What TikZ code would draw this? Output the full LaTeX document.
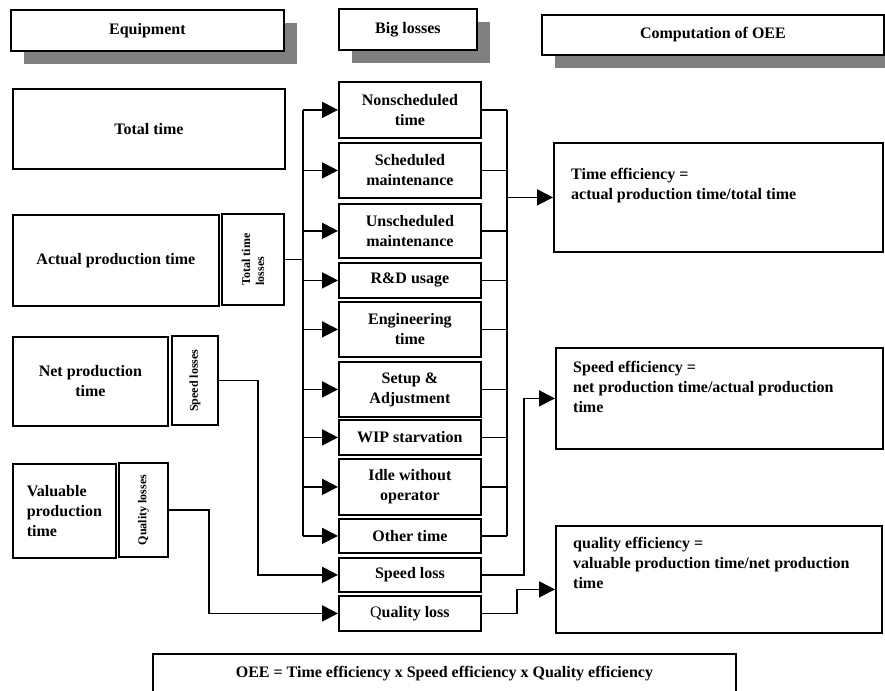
\documentclass[tikz,border=0pt]{standalone}
\usepackage{fontspec}
\setmainfont{Liberation Serif}
\usetikzlibrary{arrows.meta, positioning, shadows}
\definecolor{shade}{HTML}{808080}
\tikzset{
  lbl/.style={font=\bfseries\fontsize{16}{20}\selectfont, text=black},
  smalllbl/.style={font=\bfseries\fontsize{12}{14}\selectfont, text=black},
  box/.style={draw=black, line width=1.8pt, fill=white, inner sep=0pt, align=center, lbl, anchor=north west},
  headbox/.style={box, general shadow={fill=shade, shadow xshift=13pt, shadow yshift=-13pt}},
  sidebox/.style={box, smalllbl, rotate=90, anchor=center},
  lossbox/.style={box, minimum width=142pt},
  effbox/.style={box},
  efftext/.style={lbl, anchor=north west, align=left, inner sep=0pt},
  link/.style={line width=1.8pt},
  feed/.style={link, -{Triangle[length=16pt, width=16pt]}}
}

\begin{document}
\begin{tikzpicture}[x=1pt,y=-1pt]
\useasboundingbox (0,0) rectangle (885,690);

\node[headbox, minimum width=273pt, minimum height=41pt] (equip) at (10,9) {Equipment};
\node[headbox, minimum width=138pt, minimum height=41pt] (bigloss) at (338,8) {Big losses};
\node[headbox, minimum width=342pt, minimum height=40pt] (oeehead) at (541,14) {Computation of OEE};

\node[box, minimum width=272pt, minimum height=80pt] (total) at (12,88) {Total time};
\node[box, minimum width=206pt, minimum height=91pt] (actual) at (12,214) {Actual production time};
\node[sidebox, minimum width=91pt, minimum height=62pt, align=left] (ttloss) at (253,259.5) {Total time\\losses};
\node[box, minimum width=155pt, minimum height=89pt] (net) at (12,336) {Net production\\time};
\node[sidebox, minimum width=89pt, minimum height=46pt] (spdloss) at (195,380.5) {Speed losses};
\node[box, minimum width=103pt, minimum height=94pt, align=left] (valuable) at (12,463) {Valuable\\production\\time};
\node[sidebox, minimum width=94pt, minimum height=49pt] (qloss) at (143.5,510) {Quality losses};

\node[lossbox, minimum height=56pt] (nonsched) at (338,81) {Nonscheduled\\time};
\node[lossbox, minimum height=55pt] (sched) at (338,142) {Scheduled\\maintenance};
\node[lossbox, minimum height=54pt] (unsched) at (338,203) {Unscheduled\\maintenance};
\node[lossbox, minimum height=35pt] (rnd) at (338,262) {R\&D usage};
\node[lossbox, minimum height=55pt] (eng) at (338,301) {Engineering\\time};
\node[lossbox, minimum height=55pt] (setup) at (338,361) {Setup \&\\Adjustment};
\node[lossbox, minimum height=35pt] (wip) at (338,419) {WIP starvation};
\node[lossbox, minimum height=56pt] (idle) at (338,458) {Idle without\\operator};
\node[lossbox, minimum height=34pt] (other) at (338,518) {Other time};
\node[lossbox, minimum height=34pt] (speed) at (338,557) {Speed loss};
\node[lossbox, minimum height=35pt] (quality) at (338,595) {{\mdseries Q}uality loss};

\node[effbox, minimum width=329pt, minimum height=109pt] (timeeff) at (553,142) {};
\node[efftext] (timetxt) at ([shift={(18,26)}]timeeff.north west) {Time efficiency =\\actual production time/total time};
\node[effbox, minimum width=327pt, minimum height=101pt] (speedeff) at (555,347) {};
\node[efftext] (speedtxt) at ([shift={(18,14)}]speedeff.north west) {Speed efficiency =\\net production time/actual production\\time};
\node[effbox, minimum width=326pt, minimum height=107pt] (qualeff) at (555,525) {};
\node[efftext] (qualtxt) at ([shift={(18,12)}]qualeff.north west) {quality efficiency =\\valuable production time/net production\\time};

\node[box, minimum width=583pt, minimum height=40pt] (oee) at (152,653) {OEE = Time efficiency x Speed efficiency x Quality efficiency};

\coordinate (lbus) at (303,0);
\coordinate (rbus) at (507,0);
\draw[link] (ttloss.south) -- (lbus |- ttloss.south);
\draw[link] (lbus |- nonsched.west) -- (lbus |- other.west);
\foreach \b in {nonsched,sched,unsched,rnd,eng,setup,wip,idle,other}
  \draw[feed] (lbus |- \b.west) -- (\b.west);
\draw[link] (rbus |- nonsched.east) -- (rbus |- other.east);
\foreach \b in {nonsched,sched,unsched,rnd,eng,setup,wip,idle,other}
  \draw[link] (\b.east) -- (rbus |- \b.east);
\draw[feed] (rbus |- timeeff.west) -- (timeeff.west);

\draw[feed] (spdloss.south) -- ++(39,0) |- (speed.west);
\draw[feed] (qloss.south) -- ++(40,0) |- (quality.west);
\draw[feed] (speed.east) -- ++(42,0) |- (speedeff.west);
\draw[feed] (quality.east) -- ++(35,0) |- ([yshift=-10pt]qualeff.west);

\end{tikzpicture}
\end{document}
